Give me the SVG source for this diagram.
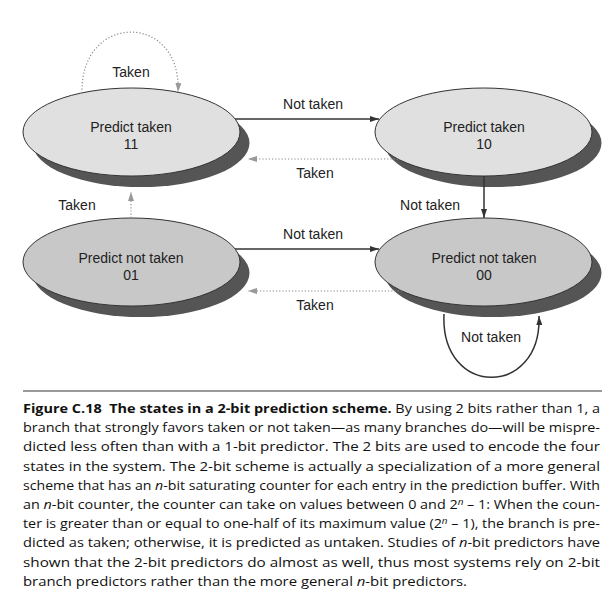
<svg xmlns="http://www.w3.org/2000/svg" width="613" height="593" viewBox="0 0 613 593">
<style>
.lbl{font-family:"Liberation Sans",Arial,sans-serif;font-size:14px;fill:#222;text-anchor:middle}
.shadow{fill:#555}
.nodeT{fill:#e0e0e0;stroke:#333;stroke-width:1}
.nodeN{fill:#c8c8c8;stroke:#333;stroke-width:1}
.solid{fill:none;stroke:#333;stroke-width:1.5}
.dot{fill:none;stroke:#8a8a8a;stroke-width:1.2;stroke-dasharray:1.2 2}
.cap{font-family:"Open Sans","Noto Sans",sans-serif;font-size:13px;fill:#111}
.it{font-style:italic}
</style>
<defs>
<marker id="ah" markerUnits="userSpaceOnUse" markerWidth="9" markerHeight="6" refX="9" refY="3" orient="auto">
<path d="M0,0 L9,3 L0,6 z" fill="#333"/>
</marker>
<marker id="ahg" markerUnits="userSpaceOnUse" markerWidth="9" markerHeight="6" refX="9" refY="3" orient="auto">
<path d="M0,0 L9,3 L0,6 z" fill="#999"/>
</marker>
</defs>
<rect width="613" height="593" fill="#fff"/>

<g id="node11">
<ellipse class="shadow" cx="141" cy="143" rx="108.5" ry="44"/>
<ellipse class="nodeT" cx="131.5" cy="132" rx="108.5" ry="44"/>
<text class="lbl" x="131" y="132">Predict taken</text>
<text class="lbl" x="131" y="149">11</text>
</g>
<g id="node10">
<ellipse class="shadow" cx="493" cy="143" rx="108.5" ry="44"/>
<ellipse class="nodeT" cx="483.5" cy="132" rx="108.5" ry="44"/>
<text class="lbl" x="484" y="132">Predict taken</text>
<text class="lbl" x="484" y="149">10</text>
</g>
<g id="node01">
<ellipse class="shadow" cx="141" cy="273" rx="108.5" ry="44"/>
<ellipse class="nodeN" cx="131.5" cy="262" rx="108.5" ry="44"/>
<text class="lbl" x="131" y="263">Predict not taken</text>
<text class="lbl" x="131" y="280">01</text>
</g>
<g id="node00">
<ellipse class="shadow" cx="493" cy="273" rx="108.5" ry="44"/>
<ellipse class="nodeN" cx="483.5" cy="262" rx="108.5" ry="44"/>
<text class="lbl" x="484" y="263">Predict not taken</text>
<text class="lbl" x="484" y="280">00</text>
</g>

<g id="connectors">
<path class="dot" d="M82,93 C80,12 182,12 178,92" marker-end="url(#ahg)"/>
<text class="lbl" x="131" y="77">Taken</text>
<path class="solid" d="M235,119 L379,119" marker-end="url(#ah)"/>
<text class="lbl" x="313" y="109">Not taken</text>
<path class="dot" d="M398,159 L248,159" marker-end="url(#ahg)"/>
<text class="lbl" x="315" y="178">Taken</text>
<path class="solid" d="M484,176 L484,218" marker-end="url(#ah)"/>
<text class="lbl" x="430" y="210">Not taken</text>
<path class="dot" d="M131,218 L131,192" marker-end="url(#ahg)"/>
<text class="lbl" x="77" y="210">Taken</text>
<path class="solid" d="M235,249 L379,249" marker-end="url(#ah)"/>
<text class="lbl" x="313" y="239">Not taken</text>
<path class="dot" d="M402,291 L248,291" marker-end="url(#ahg)"/>
<text class="lbl" x="315" y="310">Taken</text>
<path class="solid" d="M444,314 C440,398 542,398 539,316" marker-end="url(#ah)"/>
<text class="lbl" x="491" y="342">Not taken</text>
</g>

<g id="caption">
<line x1="23" y1="391" x2="602" y2="391" stroke="#777" stroke-width="1.5"/>
<text class="cap" x="23" y="413" textLength="577" lengthAdjust="spacingAndGlyphs"><tspan font-weight="bold">Figure C.18&#160; The states in a 2-bit prediction scheme.</tspan> By using 2 bits rather than 1, a</text>
<text class="cap" x="23" y="432.2" textLength="577" lengthAdjust="spacingAndGlyphs">branch that strongly favors taken or not taken—as many branches do—will be mispre-</text>
<text class="cap" x="23" y="451.4" textLength="577" lengthAdjust="spacingAndGlyphs">dicted less often than with a 1-bit predictor. The 2 bits are used to encode the four</text>
<text class="cap" x="23" y="470.6" textLength="577" lengthAdjust="spacingAndGlyphs">states in the system. The 2-bit scheme is actually a specialization of a more general</text>
<text class="cap" x="23" y="489.8" textLength="577" lengthAdjust="spacingAndGlyphs">scheme that has an <tspan class="it">n</tspan>-bit saturating counter for each entry in the prediction buffer. With</text>
<text class="cap" x="23" y="509" textLength="577" lengthAdjust="spacingAndGlyphs">an <tspan class="it">n</tspan>-bit counter, the counter can take on values between 0 and 2<tspan class="it" font-size="9" dy="-4.5">n</tspan><tspan dy="4.5"> – 1: When the coun-</tspan></text>
<text class="cap" x="23" y="528.2" textLength="577" lengthAdjust="spacingAndGlyphs">ter is greater than or equal to one-half of its maximum value (2<tspan class="it" font-size="9" dy="-4.5">n</tspan><tspan dy="4.5"> – 1), the branch is pre-</tspan></text>
<text class="cap" x="23" y="547.4" textLength="577" lengthAdjust="spacingAndGlyphs">dicted as taken; otherwise, it is predicted as untaken. Studies of <tspan class="it">n</tspan>-bit predictors have</text>
<text class="cap" x="23" y="566.6" textLength="577" lengthAdjust="spacingAndGlyphs">shown that the 2-bit predictors do almost as well, thus most systems rely on 2-bit</text>
<text class="cap" x="23" y="585.8" textLength="444" lengthAdjust="spacingAndGlyphs">branch predictors rather than the more general <tspan class="it">n</tspan>-bit predictors.</text>
</g>
</svg>
